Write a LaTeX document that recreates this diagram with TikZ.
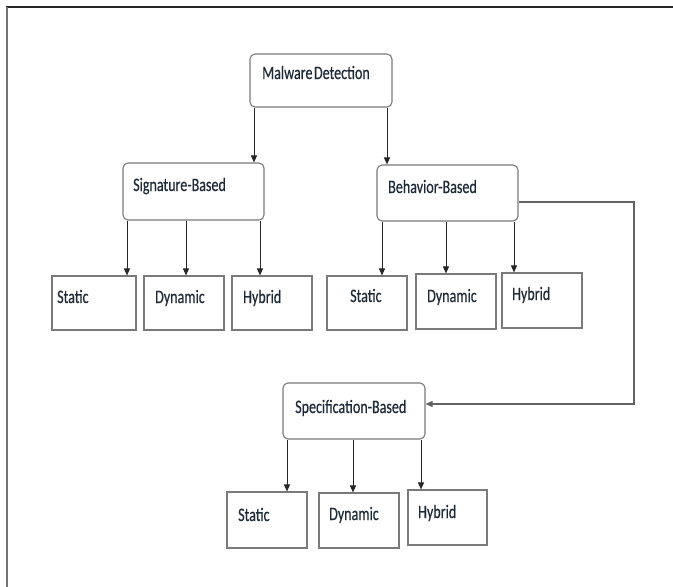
\documentclass[tikz,border=0pt]{standalone}
\usepackage{fontspec}
\setmainfont{Carlito}[FakeStretch=0.74,FakeBold=0.4]
\usetikzlibrary{arrows.meta}
\definecolor{boxgray}{HTML}{7A7A7A}
\definecolor{linegray}{HTML}{262626}
\definecolor{txt}{HTML}{1E2A38}
\begin{document}
\begin{tikzpicture}[x=1pt,y=-1pt,
  rbox/.style={draw=boxgray, line width=1.1pt, rounded corners=5pt, inner sep=0pt},
  pbox/.style={draw=boxgray, line width=1.1pt, inner sep=0pt},
  lbl/.style={anchor=base west, inner sep=0pt, text=txt, font=\fontsize{19}{22}\selectfont},
  link/.style={draw=linegray, line width=1pt, -{Triangle[length=7pt,width=6pt]}}]
\path[use as bounding box] (0,0) rectangle (673,587);
% page frame
\draw[line width=2pt, black!85] (6,7) -- (673,7);
\draw[line width=1.2pt, black!55] (7,7) -- (7,587);

% category boxes
\node[rbox, minimum width=142pt, minimum height=53pt] (md) at (321,80.5) {};
\node[rbox, minimum width=141pt, minimum height=57pt] (sig) at (193.5,191.5) {};
\node[rbox, minimum width=141pt, minimum height=56pt] (beh) at (447.5,193) {};
\node[rbox, minimum width=142pt, minimum height=56pt] (spec) at (354,411) {};

% leaf boxes
\node[pbox, minimum width=84pt, minimum height=54pt] (s1) at (94,303) {};
\node[pbox, minimum width=80pt, minimum height=54pt] (s2) at (184,303) {};
\node[pbox, minimum width=80pt, minimum height=54pt] (s3) at (272,303) {};
\node[pbox, minimum width=80pt, minimum height=54pt] (b1) at (367,303) {};
\node[pbox, minimum width=80pt, minimum height=55pt] (b2) at (456,301.5) {};
\node[pbox, minimum width=80pt, minimum height=55pt] (b3) at (542,300.5) {};
\node[pbox, minimum width=80pt, minimum height=56pt] (p1) at (267,520) {};
\node[pbox, minimum width=80pt, minimum height=55pt] (p2) at (359,520.5) {};
\node[pbox, minimum width=79pt, minimum height=55pt] (p3) at (447.5,517.5) {};

% labels
\node[lbl] (mdt) at (262,79) {Malware\hspace{0.08em}Detection};
\node[lbl] (sigt) at (133,191) {Signature-Based};
\node[lbl] (beht) at (388,193) {Behavior-Based};
\node[lbl] (spect) at (295,413) {Specification-Based};
\node[lbl] (s1t) at (57,303) {Static};
\node[lbl] (s2t) at (155,303) {Dynamic};
\node[lbl] (s3t) at (243,303) {Hybrid};
\node[lbl] (b1t) at (350,302) {Static};
\node[lbl] (b2t) at (427,302) {Dynamic};
\node[lbl] (b3t) at (512,300) {Hybrid};
\node[lbl] (p1t) at (238,521) {Static};
\node[lbl] (p2t) at (329,520) {Dynamic};
\node[lbl] (p3t) at (418,518) {Hybrid};

% connectors
\draw[link] (254,0 |- md.south) -- (254,0 |- sig.north);
\draw[link] (387,0 |- md.south) -- (387,0 |- beh.north);

\draw[link] (127,0 |- sig.south) -- (127,0 |- s1.north);
\draw[link] (186,0 |- sig.south) -- (186,0 |- s2.north);
\draw[link] (260,0 |- sig.south) -- (260,0 |- s3.north);

\draw[link] (382,0 |- beh.south) -- (382,0 |- b1.north);
\draw[link] (446,0 |- beh.south) -- (446,0 |- b2.north);
\draw[link] (514,0 |- beh.south) -- (514,0 |- b3.north);

\draw[link] (287,0 |- spec.south) -- (287,0 |- p1.north);
\draw[link] (353,0 |- spec.south) -- (353,0 |- p2.north);
\draw[link] (421,0 |- spec.south) -- (421,0 |- p3.north);

\coordinate (ra) at (634,202);
\coordinate (rb) at (634,404);
\draw[link, draw=boxgray!80!black, line width=1.1pt] (beh.east |- ra) -- (ra) -- (rb) -- (spec.east |- rb);
\end{tikzpicture}
\end{document}
